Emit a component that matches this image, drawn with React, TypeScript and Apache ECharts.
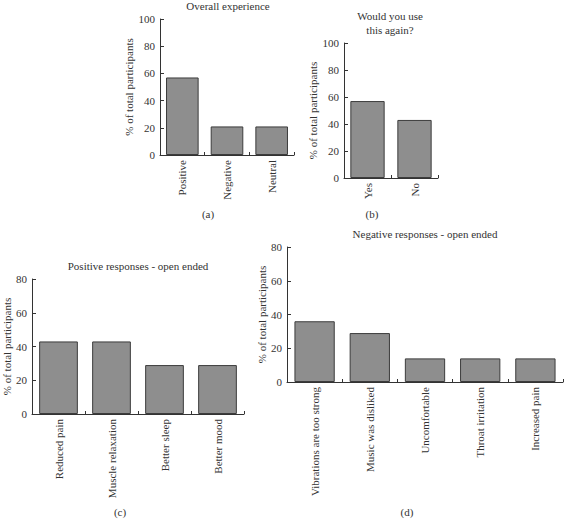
import React, { useEffect, useRef } from "react";
import * as echarts from "echarts";

const overallCategories = ["Positive", "Negative", "Neutral"];
const overallValues = [57, 21, 21];

const againCategories = ["Yes", "No"];
const againValues = [57, 43];

const positiveCategories = ["Reduced pain", "Muscle relaxation", "Better sleep", "Better mood"];
const positiveValues = [43, 43, 29, 29];

const negativeCategories = [
  "Vibrations are too strong",
  "Music was disliked",
  "Uncomfortable",
  "Throat irritation",
  "Increased pain",
];
const negativeValues = [36, 29, 14, 14, 14];

const FONT = "Liberation Serif";
const TXT = "#333333";
const AX = "#333333";

const panels = [
  { cats: overallCategories, vals: overallValues, max: 100, grid: { left: 160, top: 19, width: 134, height: 136 }, gap: 24 },
  { cats: againCategories, vals: againValues, max: 100, grid: { left: 344, top: 43, width: 94, height: 135 }, gap: 23 },
  { cats: positiveCategories, vals: positiveValues, max: 80, grid: { left: 32, top: 279, width: 212, height: 135 }, gap: 16 },
  { cats: negativeCategories, vals: negativeValues, max: 80, grid: { left: 287, top: 247, width: 276, height: 135 }, gap: 18 },
];

export default function App() {
  const ref = useRef<HTMLDivElement>(null);
  useEffect(() => {
    if (!ref.current) return;
    const chart = echarts.init(ref.current, null, { renderer: "svg" });
    const textStyle = { fontFamily: FONT, fontSize: 11, color: TXT };
    const ts = { ...textStyle, fontWeight: "normal" };
    const t = (text: string, left: number, top: number, extra: any = {}) => ({
      text,
      left,
      top,
      padding: 0,
      textAlign: "center",
      textStyle: { ...ts, ...extra },
    });
    chart.setOption({
      animation: false,
      backgroundColor: "#ffffff",
      textStyle: { fontFamily: FONT },
      title: [
        t("Overall experience", 228, 0),
        t("Would you use\nthis again?", 390, 9, { lineHeight: 14 }),
        t("Positive responses - open ended", 138, 260),
        t("Negative responses - open ended", 425, 228),
        t("(a)", 208, 208),
        t("(b)", 372, 208),
        t("(c)", 120, 506),
        t("(d)", 407, 506),
      ],
      grid: panels.map((p) => ({ ...p.grid, containLabel: false })),
      xAxis: panels.map((p, i) => ({
        type: "category",
        gridIndex: i,
        data: p.cats,
        axisLine: { show: true, lineStyle: { color: AX, width: 1 } },
        axisTick: { show: true, inside: true, length: 3, lineStyle: { color: AX } },
        axisLabel: { rotate: 90, margin: 5, interval: 0, ...textStyle },
        splitLine: { show: false },
      })),
      yAxis: panels.map((p, i) => ({
        type: "value",
        gridIndex: i,
        min: 0,
        max: p.max,
        interval: 20,
        name: "% of total participants",
        nameLocation: "middle",
        nameGap: p.gap,
        nameTextStyle: textStyle,
        axisLine: { show: true, lineStyle: { color: AX, width: 1 } },
        axisTick: { show: true, inside: true, length: 4, lineStyle: { color: AX } },
        axisLabel: { margin: 5, ...textStyle },
        splitLine: { show: false },
      })),
      series: panels.map((p, i) => ({
        type: "bar",
        xAxisIndex: i,
        yAxisIndex: i,
        data: p.vals,
        barWidth: "73%",
        itemStyle: { color: "#8e8e8e", borderColor: "#3c3c3c", borderWidth: 1 },
      })),
    });
    return () => chart.dispose();
  }, []);
  return (
    <div
      ref={ref}
      style={{ position: "absolute", left: 0, top: 0, width: 564, height: 519 }}
    />
  );
}
